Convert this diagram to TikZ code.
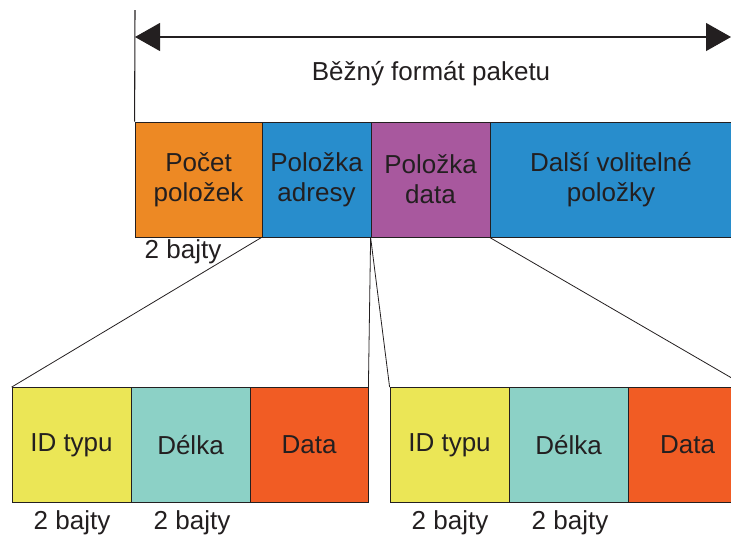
\documentclass[tikz,border=0pt]{standalone}
\usepackage{fontspec}
\setmainfont{Liberation Sans}
\usetikzlibrary{arrows.meta}
\definecolor{cOrange}{RGB}{237,137,36}
\definecolor{cBlue}{RGB}{40,141,204}
\definecolor{cPurple}{RGB}{168,88,158}
\definecolor{cYellow}{RGB}{235,230,86}
\definecolor{cTeal}{RGB}{140,209,198}
\definecolor{cRed}{RGB}{241,92,36}
\definecolor{cInk}{RGB}{35,31,32}
\tikzset{
  fld/.style={draw=cInk, line width=0.6pt, inner sep=0pt, align=center, text=cInk,
    minimum height=115*0.75pt, font=\fontsize{19.5}{22.5}\selectfont},
  lbl/.style={inner sep=0pt, align=center, text=cInk, font=\fontsize{19.5}{22.5}\selectfont}
}
\begin{document}
\begin{tikzpicture}[x=0.75pt,y=0.75pt,yscale=-1,xscale=1]
\useasboundingbox (0,0) rectangle (731,537);
\clip (0,0) rectangle (731,537);

%Shape: packet fields
\node[fld, fill=cOrange, minimum width=127*0.75pt] (cnt) at (198.5,179.5) {Počet\\položek};
\node[fld, fill=cBlue, minimum width=109*0.75pt] (adr) at (316.5,179.5) {Položka\\adresy};
\node[fld, fill=cPurple, minimum width=119*0.75pt] (dat) at (430.5,179.5) {Položka\\data};
\node[fld, fill=cBlue, minimum width=320*0.75pt] (dal) at (650,179.5) {};
\node[lbl] (dalt) at (611,179.5) {Další volitelné\\položky};

%Shape: address item fields
\node[fld, fill=cYellow, minimum width=119*0.75pt] (id1) at (71.5,445) {ID typu};
\node[fld, fill=cTeal, minimum width=119*0.75pt] (len1) at (190.5,445) {Délka};
\node[fld, fill=cRed, minimum width=118*0.75pt] (data1) at (309,445) {Data};

%Shape: data item fields
\node[fld, fill=cYellow, minimum width=119*0.75pt] (id2) at (449.5,445) {ID typu};
\node[fld, fill=cTeal, minimum width=119*0.75pt] (len2) at (568.5,445) {Délka};
\node[fld, fill=cRed, minimum width=119*0.75pt] (data2) at (687.5,445) {Data};

%Straight Lines: expansion
\draw[cInk, line width=0.6pt] (adr.south west) -- (id1.north west);
\draw[cInk, line width=0.6pt] (dat.south west) -- (data1.north east);
\draw[cInk, line width=0.6pt] (dat.south west) -- (id2.north west);
\draw[cInk, line width=0.6pt] (dal.south west) -- (data2.north east);

%Straight Lines: packet length
\coordinate (top) at (135,10);
\coordinate (arL) at (135,37);
\coordinate (arR) at (731,37);
\draw[cInk, line width=0.8pt] (cnt.north west) -- (top);
\draw[cInk, line width=0.8pt, {Triangle[length=25*0.75pt,width=28*0.75pt]}-{Triangle[length=25*0.75pt,width=28*0.75pt]}] (arL) -- (arR);

% Text Node
\node[lbl] (pkt) at (431,74) {Běžný formát paketu};
% Text Node
\node[lbl] (b0) at (183,252) {2 bajty};
\node[lbl] (b1) at (72,523) {2 bajty};
\node[lbl] (b2) at (192,523) {2 bajty};
\node[lbl] (b3) at (450,523) {2 bajty};
\node[lbl] (b4) at (570,523) {2 bajty};
\end{tikzpicture}
\end{document}
